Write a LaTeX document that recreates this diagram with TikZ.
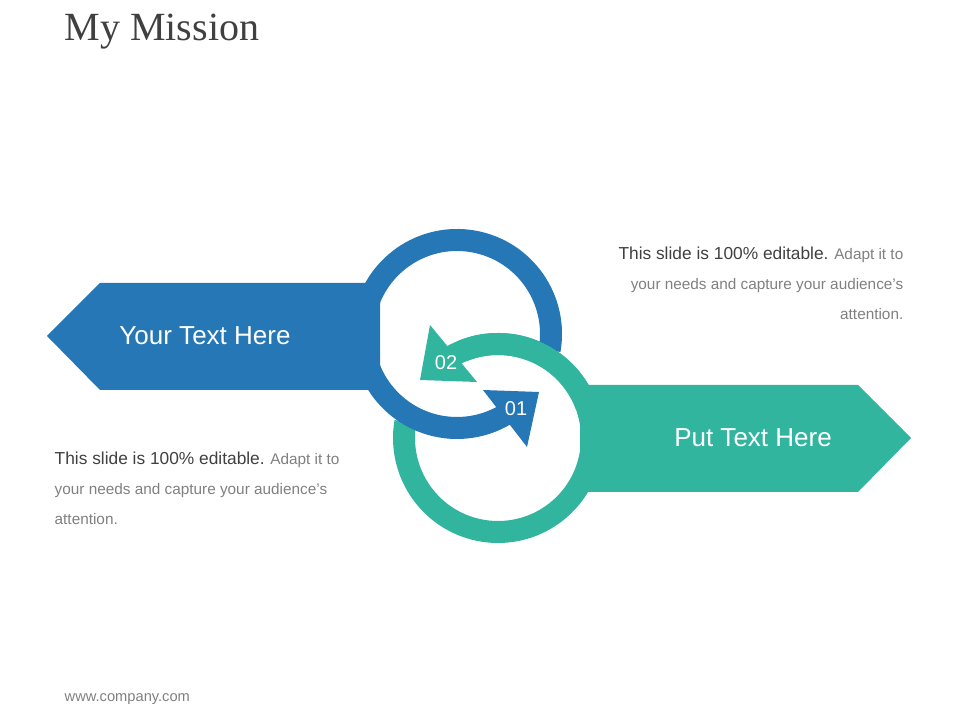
\documentclass[tikz,border=0pt]{standalone}
\usepackage{fontspec}
\setmainfont{Liberation Sans}
\newfontfamily\titlefont{Liberation Serif}
\definecolor{mblue}{HTML}{2577B5}
\definecolor{mgreen}{HTML}{31B59E}
\definecolor{dgray}{HTML}{404040}
\definecolor{lgray}{HTML}{808080}
\begin{document}
\begin{tikzpicture}[x=0.75pt,y=0.75pt,
  ring/.style={line width=16.5pt},
  banner/.style={white,font=\fontsize{19.5}{22}\selectfont},
  num/.style={white,font=\fontsize{15}{17}\selectfont},
  body/.style={lgray,font=\fontsize{11.5}{22.5}\selectfont}]
\useasboundingbox (0,0) rectangle (960,720);
% banners (y up: Y = 720 - y_img)
\fill[mblue] (47,384) -- (100,437) -- (380,437) -- (380,330) -- (100,330) -- cycle;
\fill[mgreen] (580,335) -- (858,335) -- (911,282) -- (858,228) -- (580,228) -- cycle;
\node[banner] (t1) at (205,384) {Your Text Here};
\node[banner] (t2) at (753,282) {Put Text Here};
% rings
\coordinate (cb) at (457,386);
\coordinate (cg) at (498,282);
\draw[ring,mgreen] (cg) ++(126:94) arc (126:-190:94);
\fill[mgreen] (430,395) -- (420,340) -- (477,338) -- cycle;
\draw[ring,mblue] (cb) ++(-370:94) arc (-370:-50:94);
\fill[mblue] (483,330) -- (539,328) -- (527,273) -- cycle;
\draw[ring,mgreen] (cg) ++(20:94) arc (20:112:94);
\node[num] (n2) at (446,357) {02};
\node[num] (n1) at (516,311) {01};
% title
\node[anchor=west,dgray,font=\titlefont\fontsize{30}{34}\selectfont] (title) at (60,688) {My Mission};
% texts
\node[body,anchor=north east,align=right] (r) at (908,478) {{\color{dgray}\fontsize{13}{22.5}\selectfont This slide is 100\% editable.} Adapt it to\\your needs and capture your audience's\\attention.};
\node[body,anchor=north west,align=left] (l) at (50,273) {{\color{dgray}\fontsize{13}{22.5}\selectfont This slide is 100\% editable.} Adapt it to\\your needs and capture your audience's\\attention.};
\node[anchor=west,lgray,font=\fontsize{11}{13}\selectfont] (foot) at (60,21) {www.company.com};
\end{tikzpicture}
\end{document}
